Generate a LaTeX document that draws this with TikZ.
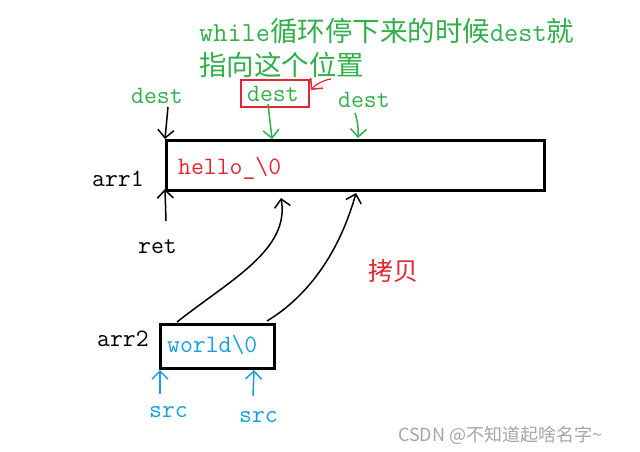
\documentclass[tikz,border=0pt]{standalone}
\usepackage{fontspec}
\newfontfamily\cjk{Noto Sans CJK SC}
\usetikzlibrary{arrows.meta}
\definecolor{tgreen}{RGB}{50,175,75}
\definecolor{tred}{RGB}{225,40,50}
\definecolor{tblue}{RGB}{25,160,220}
\definecolor{wmgrey}{RGB}{165,165,165}
\begin{document}
\begin{tikzpicture}[x=1pt,y=-1pt,
  mono/.style={font=\ttfamily\fontsize{25}{30}\selectfont, inner sep=0pt, anchor=west},
  bigmono/.style={font=\ttfamily\fontsize{27.5}{32}\selectfont, inner sep=0pt, anchor=west},
  cjktxt/.style={font=\cjk\fontsize{25}{30}\selectfont, inner sep=0pt, anchor=west},
  hand/.style={line width=1.5pt, -{Straight Barb[length=8pt,width=16pt,line width=1.5pt]}},
  box/.style={draw, line width=3pt, inner sep=0pt, anchor=north west}
]
\useasboundingbox[fill=white] (0,0) rectangle (640,452);

% title
\node[bigmono, text=tgreen] (t1) at (199,31) {while{\cjk 循环停下来的时候}dest{\cjk 就}};
\node[bigmono, text=tgreen] (t2) at (199,65) {{\cjk 指向这个位置}};

% dest labels
\node[mono, text=tgreen] (d1) at (131,96) {dest};
\node[mono, text=tgreen] (d2) at (247,94) {dest};
\node[draw=tred, line width=2.5pt, minimum width=68pt, minimum height=27pt, inner sep=0pt] (d2box) at (275,93.5) {};
\node[mono, text=tgreen] (d3) at (338,100) {dest};

% arr1
\node[box, minimum width=378pt, minimum height=50pt] (arr1) at (165,139) {};
\node[mono] (arr1lbl) at (92,179) {arr1};
\node[mono, text=tred] (hello) at (178,168) {hello\_\textbackslash0};
\node[mono] (ret) at (138,247) {ret};

% arr2
\node[box, minimum width=114pt, minimum height=44pt] (arr2) at (159,323) {};
\node[mono] (arr2lbl) at (97,339) {arr2};
\node[mono, text=tblue] (world) at (167,345) {world\textbackslash0};
\node[mono, text=tblue] (src1) at (149,412) {src};
\node[mono, text=tblue] (src2) at (239,417) {src};

\node[cjktxt, text=tred] (copy) at (368,271) {拷贝};

\node[font=\cjk\fontsize{18}{21}\selectfont, text=wmgrey, inner sep=0pt, anchor=west] (wm) at (398,435) {CSDN @不知道起啥名字\textasciitilde};

% coordinates
\coordinate (tl) at (165,139);
\coordinate (bl) at (165,189);
\coordinate (d1s) at (168,107);
\coordinate (rets) at (166,221);
\coordinate (d2s) at (268,104);
\coordinate (g1e) at (272,139);
\coordinate (d3s) at (355,113);
\coordinate (g2e) at (358,138);
\coordinate (c1s) at (177,322);
\coordinate (c1e) at (281,198);
\coordinate (c2s) at (267,321);
\coordinate (c2e) at (356,193);
\coordinate (s1s) at (160,394);
\coordinate (s1e) at (160,370);
\coordinate (s2s) at (253,396);
\coordinate (s2e) at (254,370);
\coordinate (rs) at (331,79);
\coordinate (re) at (311,90);

% arrows
\draw[hand] (d1s) -- (tl);
\draw[hand] (rets) -- (bl);
\draw[hand, tgreen] (d2s) -- (g1e);
\draw[hand, tgreen] (d3s) to[bend left=10] (g2e);
\draw[hand, tblue] (s1s) -- (s1e);
\draw[hand, tblue] (s2s) -- (s2e);
\draw[hand] (c1s) .. controls (230,280) and (290,250) .. (c1e);
\draw[hand] (c2s) .. controls (310,295) and (340,250) .. (c2e);
\draw[hand, tred, line width=1.2pt] (rs) .. controls (324,80) and (316,84) .. (re);
\end{tikzpicture}
\end{document}
